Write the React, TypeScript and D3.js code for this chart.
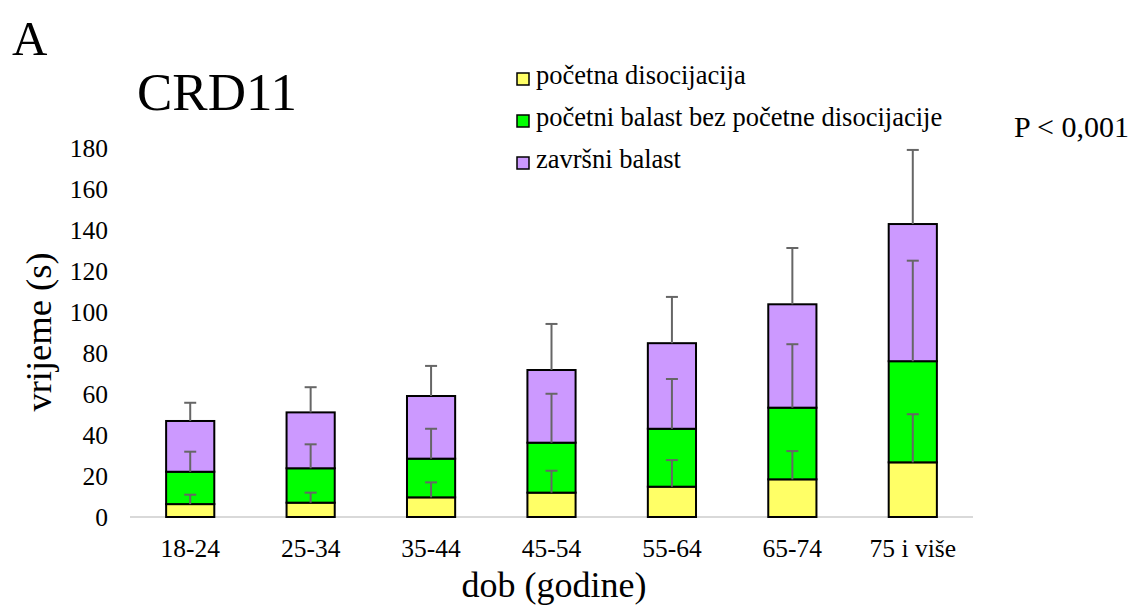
import React from "react";
import * as d3 from "d3";

const categories = ["18-24", "25-34", "35-44", "45-54", "55-64", "65-74", "75 i više"];
const pocetnaDisocijacija = [6.3, 7.0, 9.6, 11.9, 14.8, 18.4, 26.7];
const pocetniBalast = [15.8, 16.8, 18.9, 24.4, 28.3, 35.0, 49.4];
const zavrsniBalast = [24.8, 27.3, 30.6, 35.5, 41.8, 50.5, 67.0];
const errDisocijacija = [4.6, 4.9, 7.3, 10.7, 13.0, 13.8, 23.5];
const errPocetniBalast = [9.8, 11.7, 14.6, 23.9, 24.3, 31.0, 49.1];
const errZavrsniBalast = [8.9, 12.3, 14.7, 22.5, 22.6, 27.5, 36.2];
const yTicks = [0, 20, 40, 60, 80, 100, 120, 140, 160, 180];
const seriesNames = ["početna disocijacija", "početni balast bez početne disocijacije", "završni balast"];
const seriesColors = ["#FFFF66", "#00FF00", "#CC99FF"];

const W = 1139;
const H = 608;
const FONT = "Liberation Serif";

export default function App() {
  const x = d3.scaleBand<string>().domain(categories).range([130, 973]).paddingInner(0.6).paddingOuter(0.3);
  const y = d3.scaleLinear().domain([0, 180]).range([517, 148.5]);

  const rows = categories.map((c, i) => ({
    cat: c,
    vals: [pocetnaDisocijacija[i], pocetniBalast[i], zavrsniBalast[i]],
    errs: [errDisocijacija[i], errPocetniBalast[i], errZavrsniBalast[i]],
  }));

  const stack = d3.stack<any>().keys(["0", "1", "2"]).value((d, k) => d.vals[+k]);
  const stacked = stack(rows);

  const bw = x.bandwidth();
  const T = { fontFamily: FONT, fill: "#000" } as const;

  return (
    <svg width={W} height={H} style={{ position: "absolute", left: 0, top: 0, background: "#fff" }}>
      <rect x={0} y={0} width={W} height={H} fill="#fff" />
      <text {...T} x={12} y={55} fontSize={49}>A</text>
      <text {...T} x={137} y={110} fontSize={53}>CRD11</text>
      <text {...T} x={1014} y={137} fontSize={30}>P &lt; 0,001</text>

      {seriesNames.map((n, i) => (
        <g key={n} transform={`translate(0, ${84 + i * 42})`}>
          <rect x={517} y={-11} width={12} height={12} fill={seriesColors[i]} stroke="#000" strokeWidth={1.5} />
          <text {...T} x={536} y={0} fontSize={26.5}>{n}</text>
        </g>
      ))}

      {yTicks.map((t) => (
        <text {...T} key={t} x={108} y={y(t) + 8.5} fontSize={25.5} textAnchor="end">{t}</text>
      ))}

      <line x1={130} x2={973} y1={y(0)} y2={y(0)} stroke="#d9d9d9" strokeWidth={2} />

      {stacked.map((layer, si) => (
        <g key={si}>
          {layer.map((d, i) => (
            <rect key={i} x={x(categories[i])!} y={y(d[1])} width={bw} height={y(d[0]) - y(d[1])}
              fill={seriesColors[si]} stroke="#000" strokeWidth={2} />
          ))}
        </g>
      ))}

      {stacked.map((layer, si) => (
        <g key={"e" + si}>
          {layer.map((d, i) => {
            const cx = x(categories[i])! + bw / 2;
            const top = d[1];
            const e = rows[i].errs[si];
            return (
              <g key={i} stroke="#666" strokeWidth={2}>
                <line x1={cx} x2={cx} y1={y(top)} y2={y(top + e)} />
                <line x1={cx - 6} x2={cx + 6} y1={y(top + e)} y2={y(top + e)} />
              </g>
            );
          })}
        </g>
      ))}

      {categories.map((c) => (
        <text {...T} key={c} x={x(c)! + bw / 2} y={557} fontSize={25.5} textAnchor="middle">{c}</text>
      ))}

      <text {...T} x={554} y={597} fontSize={36} textAnchor="middle">dob (godine)</text>
      <text {...T} transform={`translate(51, 332) rotate(-90)`} fontSize={36.5} textAnchor="middle">vrijeme (s)</text>
    </svg>
  );
}
